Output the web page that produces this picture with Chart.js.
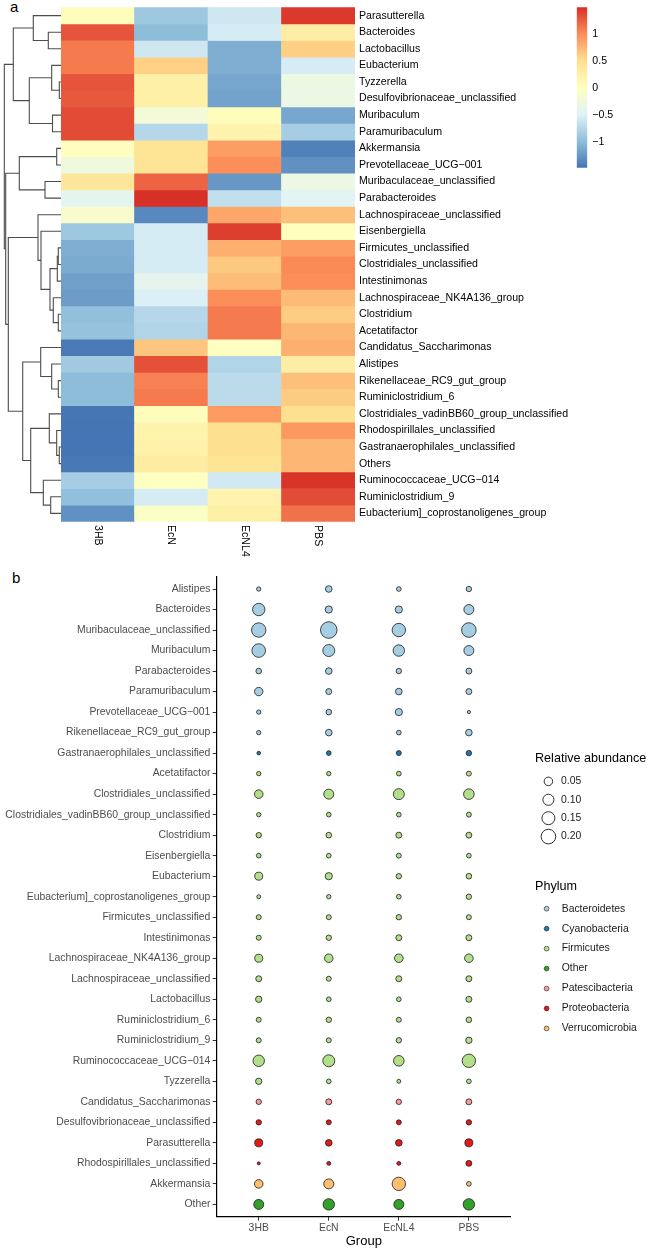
<!DOCTYPE html>
<html lang="en">
<head>
<meta charset="UTF-8">
<title>Genus heatmap and bubble plot</title>
<style>
  * { margin: 0; padding: 0; }
  body { width: 649px; height: 1249px; background: #fff; position: relative; overflow: hidden;
         font-family: "Liberation Sans", Arial, sans-serif; }
  canvas { position: absolute; }
  .tag { position: absolute; font-size: 15px; color: #000; }
</style>
</head>
<body>
<div class="tag" style="left:10px;top:-2px">a</div>
<div class="tag" style="left:12px;top:569px">b</div>
<canvas id="dendro" width="62" height="515" style="left:0;top:7px"></canvas>
<canvas id="heat" width="515" height="550" style="left:61px;top:7px"></canvas>
<canvas id="cbar" width="50" height="161" style="left:576px;top:7px"></canvas>
<canvas id="bubble" width="520" height="683" style="left:0;top:566px"></canvas>
<canvas id="sizeLeg" width="114" height="104" style="left:535px;top:750px"></canvas>
<canvas id="phylumLeg" width="110" height="165" style="left:535px;top:878px"></canvas>
<script src="https://cdn.jsdelivr.net/npm/chart.js@4.4.1/dist/chart.umd.min.js"></script>
<script>
// ---- panel a: row-scaled abundance heatmap ----
const groups = ['3HB', 'EcN', 'EcNL4', 'PBS'];
const heatRows = ['Parasutterella', 'Bacteroides', 'Lactobacillus', 'Eubacterium', 'Tyzzerella',
  'Desulfovibrionaceae_unclassified', 'Muribaculum', 'Paramuribaculum', 'Akkermansia',
  'Prevotellaceae_UCG\u2212001', 'Muribaculaceae_unclassified', 'Parabacteroides',
  'Lachnospiraceae_unclassified', 'Eisenbergiella', 'Firmicutes_unclassified',
  'Clostridiales_unclassified', 'Intestinimonas', 'Lachnospiraceae_NK4A136_group', 'Clostridium',
  'Acetatifactor', 'Candidatus_Saccharimonas', 'Alistipes', 'Rikenellaceae_RC9_gut_group',
  'Ruminiclostridium_6', 'Clostridiales_vadinBB60_group_unclassified', 'Rhodospirillales_unclassified',
  'Gastranaerophilales_unclassified', 'Others', 'Ruminococcaceae_UCG\u2212014', 'Ruminiclostridium_9',
  'Eubacterium]_coprostanoligenes_group'];
const heat3HB = [0.05, 1.3, 1.1, 1.1, 1.3, 1.28, 1.35, 1.35, 0.02, -0.25, 0.4, -0.42, -0.1, -0.9, -1.1, -1.12,
  -1.2, -1.22, -0.98, -0.95, -1.45, -0.88, -1.0, -1.0, -1.47, -1.48, -1.48, -1.46, -0.85, -0.98, -1.3];
const heatEcN = [-0.9, -1.0, -0.6, 0.6, 0.25, 0.25, -0.2, -0.75, 0.45, 0.45, 1.22, 1.5, -1.35, -0.55, -0.55, -0.55,
  -0.4, -0.52, -0.75, -0.78, 0.66, 1.33, 1.07, 1.1, 0.05, 0.2, 0.22, 0.32, 0.0, -0.55, -0.05];
const heatEcNL4 = [-0.6, -0.55, -1.1, -1.1, -1.15, -1.18, 0.05, 0.2, 0.9, 1.0, -1.25, -0.68, 0.85, 1.42, 0.8, 0.65,
  0.72, 1.0, 1.1, 1.1, 0.0, -0.78, -0.72, -0.72, 0.92, 0.5, 0.5, 0.45, -0.58, 0.2, 0.25];
const heatPBS = [1.45, 0.3, 0.6, -0.55, -0.3, -0.3, -1.15, -0.85, -1.4, -1.3, -0.3, -0.45, 0.7, 0.02, 0.9, 1.02,
  1.0, 0.73, 0.62, 0.75, 0.8, 0.3, 0.7, 0.63, 0.5, 0.93, 0.76, 0.76, 1.48, 1.35, 1.15];
const heatLo = -1.48, heatHi = 1.5;
const heatTicks = [1, 0.5, 0, -0.5, -1];
const heatPalette = ['#4575B4', '#91BFDB', '#E0F3F8', '#FFFFBF', '#FEE090', '#FC8D59', '#D73027'];

// row dendrogram: [left, right, height]; numbers are rows, '#k' is merge k
const dendroMaxH = 61;
const dendroMerges = [
  [1, 2, 12.7], [0, '#0', 27.7], [4, 5, 1.7], [3, '#2', 9.3], [6, 7, 8.5], ['#3', '#4', 31.7],
  ['#1', '#5', 47.7], [8, 9, 4.3], [10, 11, 16], ['#7', '#8', 41.7],
  [14, 15, 2.7], ['#10', 16, 3.7], [18, 19, 2.7], [17, '#12', 7.7], ['#11', '#13', 11],
  [13, '#14', 20], [12, '#15', 23], [22, 23, 2.7], [21, '#17', 9.3], [20, '#18', 20.3],
  [26, 27, 1.7], [25, '#20', 4.3], [24, '#21', 11.7], [29, 30, 10.3], [28, '#23', 17.7],
  ['#22', '#24', 30.3], ['#19', '#25', 38.3], ['#16', '#26', 52.7], ['#9', '#27', 55.3], ['#6', '#28', 56.7]];

// ---- panel b: relative abundance bubbles ----
const bubbleTaxa = ['Alistipes', 'Bacteroides', 'Muribaculaceae_unclassified', 'Muribaculum', 'Parabacteroides',
  'Paramuribaculum', 'Prevotellaceae_UCG\u2212001', 'Rikenellaceae_RC9_gut_group', 'Gastranaerophilales_unclassified',
  'Acetatifactor', 'Clostridiales_unclassified', 'Clostridiales_vadinBB60_group_unclassified', 'Clostridium',
  'Eisenbergiella', 'Eubacterium', 'Eubacterium]_coprostanoligenes_group', 'Firmicutes_unclassified',
  'Intestinimonas', 'Lachnospiraceae_NK4A136_group', 'Lachnospiraceae_unclassified', 'Lactobacillus',
  'Ruminiclostridium_6', 'Ruminiclostridium_9', 'Ruminococcaceae_UCG\u2212014', 'Tyzzerella',
  'Candidatus_Saccharimonas', 'Desulfovibrionaceae_unclassified', 'Parasutterella',
  'Rhodospirillales_unclassified', 'Akkermansia', 'Other'];
const taxaPhylum = ['Bacteroidetes', 'Bacteroidetes', 'Bacteroidetes', 'Bacteroidetes', 'Bacteroidetes',
  'Bacteroidetes', 'Bacteroidetes', 'Bacteroidetes', 'Cyanobacteria',
  'Firmicutes', 'Firmicutes', 'Firmicutes', 'Firmicutes', 'Firmicutes', 'Firmicutes', 'Firmicutes', 'Firmicutes',
  'Firmicutes', 'Firmicutes', 'Firmicutes', 'Firmicutes', 'Firmicutes', 'Firmicutes', 'Firmicutes', 'Firmicutes',
  'Patescibacteria', 'Proteobacteria', 'Proteobacteria', 'Proteobacteria', 'Verrucomicrobia', 'Other'];
const phyla = ['Bacteroidetes', 'Cyanobacteria', 'Firmicutes', 'Other', 'Patescibacteria', 'Proteobacteria', 'Verrucomicrobia'];
const phylumColors = ['#A6CEE3', '#1F78B4', '#B2DF8A', '#33A02C', '#FB9A99', '#E31A1C', '#FDBF6F'];
const abund3HB = [0.005, 0.134, 0.193, 0.168, 0.014, 0.048, 0.005, 0.005, 0.002, 0.005, 0.051, 0.005, 0.012,
  0.007, 0.042, 0.003, 0.009, 0.009, 0.042, 0.017, 0.021, 0.009, 0.009, 0.109, 0.021, 0.012, 0.012, 0.042,
  0.0005, 0.051, 0.077];
const abundEcN = [0.024, 0.031, 0.27, 0.123, 0.024, 0.017, 0.014, 0.024, 0.007, 0.005, 0.077, 0.007, 0.014,
  0.007, 0.031, 0.005, 0.009, 0.012, 0.051, 0.009, 0.007, 0.012, 0.009, 0.123, 0.007, 0.017, 0.009, 0.024,
  0.003, 0.077, 0.109];
const abundEcNL4 = [0.007, 0.031, 0.162, 0.109, 0.012, 0.024, 0.031, 0.007, 0.009, 0.007, 0.099, 0.007, 0.017,
  0.009, 0.012, 0.007, 0.012, 0.017, 0.051, 0.017, 0.007, 0.009, 0.012, 0.09, 0.003, 0.012, 0.009, 0.024,
  0.003, 0.162, 0.077];
const abundPBS = [0.012, 0.077, 0.199, 0.077, 0.017, 0.017, 0.001, 0.024, 0.012, 0.009, 0.09, 0.009, 0.017,
  0.007, 0.014, 0.012, 0.009, 0.017, 0.051, 0.017, 0.017, 0.014, 0.021, 0.162, 0.007, 0.017, 0.012, 0.042,
  0.017, 0.007, 0.109];
const sizeBreaks = [0.05, 0.10, 0.15, 0.20];
const sizeLimit = 0.27, sizeRange = [1.2, 8.3];

Chart.defaults.font.family = '"Liberation Sans", Arial, sans-serif';
Chart.defaults.animation = false;
Chart.defaults.events = [];
Chart.defaults.plugins.legend.display = false;
Chart.defaults.plugins.tooltip.enabled = false;

function hexRgb(h) {
  return [1, 3, 5].map(k => parseInt(h.slice(k, k + 2), 16));
}

function heatColor(v) {
  var t = Math.min(1, Math.max(0, (v - heatLo) / (heatHi - heatLo))) * (heatPalette.length - 1);
  var k = Math.min(Math.floor(t), heatPalette.length - 2);
  var f = t - k;
  var a = hexRgb(heatPalette[k]), b = hexRgb(heatPalette[k + 1]);
  return 'rgb(' + a.map((c, n) => Math.round(c + (b[n] - c) * f)).join(',') + ')';
}

function sizeR(v) {
  return sizeRange[0] + (sizeRange[1] - sizeRange[0]) * Math.sqrt(v / sizeLimit);
}

// one elbow polyline per merge
function dendroLines() {
  var pos = [];
  var ref = k => typeof k === 'number' ? { h: 0, y: k } : pos[+k.slice(1)];
  return dendroMerges.map(([a, b, h]) => {
    var L = ref(a), R = ref(b);
    pos.push({ h: h, y: (L.y + R.y) / 2 });
    return [{ x: L.h, y: L.y }, { x: h, y: L.y }, { x: h, y: R.y }, { x: R.h, y: R.y }];
  });
}

var rowTicks = n => s => { s.ticks = Array.from({ length: n }, (_, i) => ({ value: i })); };

new Chart(document.getElementById('dendro'), {
  type: 'scatter',
  data: {
    datasets: dendroLines().map(pts => ({
      data: pts, showLine: true, borderColor: '#4d4d4d', borderWidth: 1.1, pointRadius: 0, clip: false
    }))
  },
  options: {
    responsive: false,
    layout: { padding: { top: 0.3, bottom: 0.3, left: 0, right: 1 } },
    scales: {
      x: { type: 'linear', display: false, min: 0, max: dendroMaxH, reverse: true },
      y: { type: 'linear', display: false, min: -0.5, max: heatRows.length - 0.5, reverse: true }
    }
  }
});

// pheatmap writes column names top-to-bottom
const topDownLabels = {
  id: 'topDownLabels',
  beforeDraw(chart) {
    var sc = chart.scales.x;
    sc.getLabelItems(chart.chartArea).forEach((item, i) => {
      item.textOffset = 0;
      Object.assign(item.options, {
        rotation: Math.PI / 2, textAlign: 'left', textBaseline: 'middle',
        translation: [sc.getPixelForTick(i), sc.top + 3.3]
      });
    });
  }
};

var heatCols = [heat3HB, heatEcN, heatEcNL4, heatPBS];
new Chart(document.getElementById('heat'), {
  type: 'bar',
  data: {
    labels: groups,
    datasets: heatRows.map((name, i) => ({
      label: name,
      data: groups.map(() => [i - 0.5, i + 0.5]),
      backgroundColor: heatCols.map(col => heatColor(col[i])),
      borderWidth: 0,
      grouped: false,
      barPercentage: 1,
      categoryPercentage: 1
    }))
  },
  options: {
    responsive: false,
    layout: { padding: { top: 0.3 } },
    scales: {
      x: {
        grid: { display: false, drawTicks: false }, border: { display: false },
        ticks: { color: '#000', font: { size: 10.6 }, minRotation: 90, maxRotation: 90, autoSkip: false },
        afterFit: s => { s.height = 35.3; s.paddingLeft = 0; s.paddingRight = 0; }
      },
      y: {
        type: 'linear', position: 'right', min: -0.5, max: heatRows.length - 0.5, reverse: true,
        grid: { display: false, drawTicks: false }, border: { display: false },
        afterBuildTicks: rowTicks(heatRows.length),
        ticks: { autoSkip: false, padding: 4, color: '#000', font: { size: 10.6 }, callback: v => heatRows[v] },
        afterFit: s => { s.width = 221; s.paddingTop = 0; s.paddingBottom = 0; }
      }
    }
  },
  plugins: [topDownLabels]
});

new Chart(document.getElementById('cbar'), {
  type: 'bar',
  data: {
    labels: [''],
    datasets: [{
      data: [[heatLo, heatHi]],
      backgroundColor: c => {
        var ch = c.chart;
        if (!ch.chartArea) return heatPalette[3];
        var ys = ch.scales.y;
        var g = ch.ctx.createLinearGradient(0, ys.getPixelForValue(heatLo), 0, ys.getPixelForValue(heatHi));
        heatPalette.forEach((col, k) => g.addColorStop(k / (heatPalette.length - 1), col));
        return g;
      },
      borderWidth: 0, barPercentage: 1, categoryPercentage: 1
    }]
  },
  options: {
    responsive: false,
    layout: { padding: { left: 0.7, top: 0.3, bottom: 0.3 } },
    scales: {
      x: { display: false },
      y: {
        position: 'right', min: heatLo, max: heatHi,
        grid: { display: false, drawTicks: false }, border: { display: false },
        afterBuildTicks: s => { s.ticks = heatTicks.map(v => ({ value: v })); },
        ticks: { padding: 5, color: '#000', font: { size: 10.6 },
                 callback: v => (v < 0 ? '\u2212' : '') + Math.abs(v) },
        afterFit: s => { s.width = 38.7; s.paddingTop = 0; s.paddingBottom = 0; }
      }
    }
  }
});

// ---- panel b charts ----
var abundCols = [abund3HB, abundEcN, abundEcNL4, abundPBS];
var taxonColors = taxaPhylum.map(p => phylumColors[phyla.indexOf(p)]);

new Chart(document.getElementById('bubble'), {
  type: 'bubble',
  data: {
    datasets: groups.map((g, j) => ({
      label: g,
      data: bubbleTaxa.map((t, i) => ({ x: j, y: i, r: sizeR(abundCols[j][i]) })),
      backgroundColor: taxonColors,
      borderColor: '#1a1a1a',
      borderWidth: 0.8,
      clip: false
    }))
  },
  options: {
    responsive: false,
    layout: { padding: { top: 10.7, right: 7 } },
    scales: {
      x: {
        type: 'linear', min: -0.6, max: groups.length - 0.4,
        afterBuildTicks: rowTicks(groups.length),
        grid: { drawOnChartArea: false, tickLength: 4, color: '#333' },
        border: { color: '#000', width: 1.2 },
        ticks: { autoSkip: false, maxRotation: 0, padding: 1.5, color: '#4d4d4d', font: { size: 10.4 },
                 callback: v => groups[v] },
        title: { display: true, text: 'Group', color: '#000', font: { size: 13 }, padding: { top: 0, bottom: 0 } },
        afterFit: s => { s.height = 32.3; s.paddingLeft = 0; s.paddingRight = 0; }
      },
      y: {
        type: 'linear', min: -0.6, max: bubbleTaxa.length - 0.4, reverse: true,
        afterBuildTicks: rowTicks(bubbleTaxa.length),
        grid: { drawOnChartArea: false, tickLength: 4, color: '#333' },
        border: { color: '#000', width: 1.2 },
        ticks: { autoSkip: false, padding: 2.3, color: '#4d4d4d', font: { size: 10.4 },
                 callback: v => bubbleTaxa[v] },
        afterFit: s => { s.width = 216.7; s.paddingTop = 0; s.paddingBottom = 0; }
      }
    }
  }
});

function legendScales(n, width, pad, label) {
  return {
    x: { type: 'linear', display: false, min: -1, max: 1 },
    y: {
      type: 'linear', position: 'right', min: -0.5, max: n - 0.5, reverse: true,
      grid: { display: false, drawTicks: false }, border: { display: false },
      afterBuildTicks: rowTicks(n),
      ticks: { autoSkip: false, padding: pad, color: '#1a1a1a', font: { size: 10.4 }, callback: label },
      afterFit: s => { s.width = width; s.paddingTop = 0; s.paddingBottom = 0; }
    }
  };
}

new Chart(document.getElementById('sizeLeg'), {
  type: 'bubble',
  data: {
    datasets: [{
      data: sizeBreaks.map((v, i) => ({ x: 0, y: i, r: sizeR(v) })),
      backgroundColor: '#fff', borderColor: '#1a1a1a', borderWidth: 0.9, clip: false
    }]
  },
  options: {
    responsive: false,
    layout: { padding: { bottom: 0.65 } },
    plugins: {
      title: { display: true, text: 'Relative abundance', align: 'start', color: '#000',
               font: { size: 12.6, weight: 'normal' }, padding: { top: 1.44, bottom: 5.59 } }
    },
    scales: legendScales(sizeBreaks.length, 95.4, 7.4, v => sizeBreaks[v].toFixed(2))
  }
});

new Chart(document.getElementById('phylumLeg'), {
  type: 'bubble',
  data: {
    datasets: [{
      data: phyla.map((p, i) => ({ x: 0, y: i, r: 2.4 })),
      backgroundColor: phylumColors, borderColor: '#1a1a1a', borderWidth: 0.6, clip: false
    }]
  },
  options: {
    responsive: false,
    layout: { padding: { bottom: 0.75 } },
    plugins: {
      title: { display: true, text: 'Phylum', align: 'start', color: '#000',
               font: { size: 12.6, weight: 'normal' }, padding: { top: 1.14, bottom: 4.49 } }
    },
    scales: legendScales(phyla.length, 91.4, 8.1, v => phyla[v])
  }
});
</script>
</body>
</html>
